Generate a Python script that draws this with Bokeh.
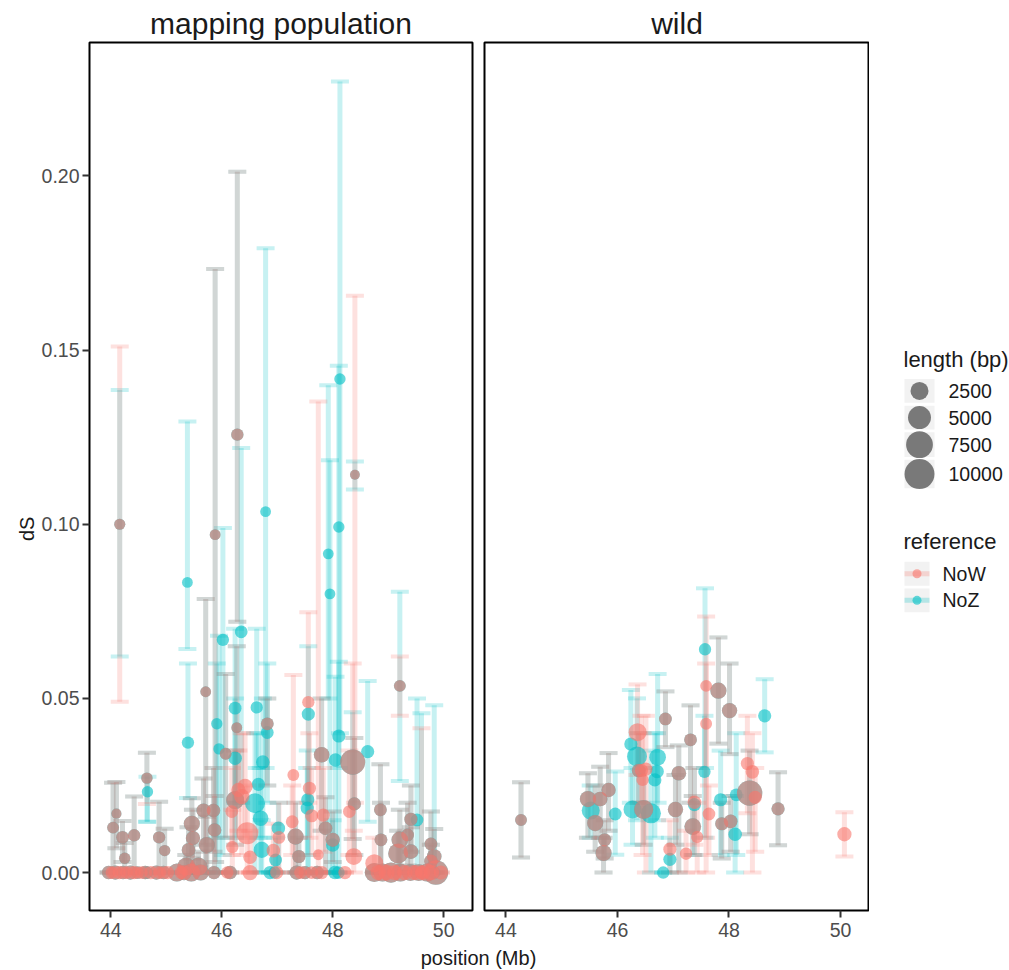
import math
from bokeh.plotting import figure
from bokeh.layouts import row, column
from bokeh.models import Range1d, FixedTicker, PrintfTickFormatter, ColumnDataSource
from bokeh.core.properties import value
from bokeh.embed import file_html
from bokeh.resources import INLINE

# ---------------- data: (position Mb, dS, lower, upper, length bp) ----------------
map_now = [
    (44.16, 0.100, 0.049, 0.151, 450), (44.04, 0.0129, 0.0, 0.0258, 600), (44.10, 0.0169, 0.007, 0.026, 300),
    (44.21, 0.0101, 0.003, 0.0148, 800), (44.25, 0.0041, 0.0, 0.0085, 500), (44.42, 0.0107, 0.0, 0.0218, 700),
    (44.65, 0.0271, 0.0197, 0.0344, 500), (44.87, 0.0101, 0.0, 0.0203, 700), (44.97, 0.0063, 0.0, 0.0126, 500),
    (45.46, 0.0140, 0.004, 0.0213, 1800), (45.48, 0.0099, 0.0, 0.018, 1200), (45.40, 0.0065, 0.0, 0.013, 1000),
    (45.36, 0.0017, 0.0, 0.005, 2500), (45.58, 0.0017, 0.0, 0.006, 2500), (45.67, 0.0178, 0.008, 0.027, 1200),
    (45.73, 0.0079, 0.0, 0.016, 1800), (45.71, 0.0519, 0.0, 0.0785, 400), (45.85, 0.0178, 0.006, 0.030, 1000),
    (45.87, 0.0122, 0.0, 0.022, 1000), (45.88, 0.0970, 0.003, 0.1733, 400), (46.07, 0.0341, 0.010, 0.057, 600),
    (46.27, 0.0416, 0.020, 0.065, 400), (46.28, 0.1257, 0.072, 0.2012, 700), (46.24, 0.0208, 0.008, 0.035, 2500),
    (46.82, 0.0427, 0.025, 0.050, 800), (47.33, 0.0103, 0.0, 0.020, 1800), (47.39, 0.0046, 0.0, 0.010, 900),
    (47.80, 0.0338, 0.012, 0.050, 1600), (47.87, 0.0127, 0.0, 0.0216, 1000), (48.00, 0.0094, 0.003, 0.0175, 1200),
    (48.36, 0.0317, 0.0096, 0.060, 6300), (48.39, 0.0197, 0.005, 0.0386, 900), (48.40, 0.1142, 0.020, 0.1656, 250),
    (48.86, 0.0180, 0.0, 0.0311, 800), (48.87, 0.0094, 0.0, 0.020, 800), (49.21, 0.0536, 0.045, 0.062, 600),
    (49.41, 0.0153, 0.006, 0.025, 900), (49.35, 0.0108, 0.002, 0.020, 800), (49.21, 0.0094, 0.0, 0.018, 2000),
    (49.18, 0.0055, 0.0, 0.012, 3400), (49.41, 0.0060, 0.0, 0.013, 1300), (49.77, 0.0082, 0.0, 0.0175, 800),
    (49.83, 0.0046, 0.0, 0.0125, 1300), (49.77, 0.0032, 0.0, 0.008, 1000),
    (43.96, 0.0, 0.0, 0.0, 1000), (44.08, 0.0, 0.0, 0.0, 1200), (44.22, 0.0, 0.0, 0.0, 1000), (44.35, 0.0, 0.0, 0.0, 1200),
    (44.48, 0.0, 0.0, 0.0, 800), (44.62, 0.0, 0.0, 0.0, 1000), (44.82, 0.0, 0.0, 0.0, 1200), (44.95, 0.0, 0.0, 0.0, 1000),
    (45.19, 0.0, 0.0, 0.0, 2500), (45.32, 0.0, 0.0, 0.0, 1500), (45.45, 0.0, 0.0, 0.0, 2500), (45.62, 0.0, 0.0, 0.0, 1800),
    (45.86, 0.0, 0.0, 0.0, 900), (46.15, 0.0, 0.0, 0.0, 1000), (47.35, 0.0, 0.0, 0.0, 1200), (47.50, 0.0, 0.0, 0.0, 900),
    (47.72, 0.0, 0.0, 0.0, 1000), (48.75, 0.0, 0.0, 0.0, 3000), (48.90, 0.0, 0.0, 0.0, 2500), (49.05, 0.0, 0.0, 0.0, 3500),
    (49.22, 0.0, 0.0, 0.0, 2500), (49.40, 0.0, 0.0, 0.0, 2000), (49.55, 0.0, 0.0, 0.0, 2000), (49.70, 0.0, 0.0, 0.0, 2500),
    (49.86, 0.0, 0.0, 0.0, 6000),
    (46.30, 0.0237, 0.012, 0.035, 1200), (46.42, 0.0247, 0.010, 0.040, 1500), (46.36, 0.0218, 0.005, 0.040, 1500),
    (46.18, 0.0175, 0.005, 0.030, 800), (46.46, 0.0113, 0.0, 0.025, 4400), (46.19, 0.0073, 0.0, 0.018, 700),
    (46.51, 0.0044, 0.0, 0.012, 1000), (46.93, 0.0063, 0.0, 0.014, 1000), (47.03, 0.0101, 0.0, 0.020, 800),
    (47.29, 0.0280, 0.0, 0.0567, 600), (47.27, 0.0146, 0.005, 0.025, 800), (47.56, 0.0489, 0.020, 0.0747, 700),
    (47.74, 0.0051, 0.0, 0.1352, 400), (47.58, 0.0242, 0.010, 0.040, 900), (47.62, 0.0163, 0.005, 0.030, 900),
    (47.83, 0.0165, 0.006, 0.030, 900), (48.30, 0.0175, 0.005, 0.035, 800), (48.38, 0.0046, 0.0, 0.012, 2000),
    (48.75, 0.0027, 0.0, 0.010, 2500), (49.60, 0.0, 0.0, 0.0414, 800),
    (44.02, 0.0, 0.0, 0.0, 800), (44.15, 0.0, 0.0, 0.0, 900), (44.28, 0.0, 0.0, 0.0, 800), (44.42, 0.0, 0.0, 0.0, 900),
    (44.55, 0.0, 0.0, 0.0, 800), (44.72, 0.0, 0.0, 0.0, 900), (44.88, 0.0, 0.0, 0.0, 800), (45.02, 0.0, 0.0, 0.0, 900),
    (45.27, 0.0, 0.0, 0.0, 900), (46.10, 0.0, 0.0, 0.0, 700), (46.51, 0.0, 0.0, 0.0, 1500), (46.99, 0.0, 0.0, 0.0, 900),
    (47.42, 0.0, 0.0, 0.0, 800), (47.62, 0.0, 0.0, 0.0, 800), (47.80, 0.0, 0.0, 0.0, 900), (48.22, 0.0, 0.0, 0.0, 900),
    (48.82, 0.0, 0.0, 0.0, 1500), (48.97, 0.0, 0.0, 0.0, 1800), (49.12, 0.0, 0.0, 0.0, 1500), (49.30, 0.0, 0.0, 0.0, 1500),
    (49.48, 0.0, 0.0, 0.0, 1500), (49.62, 0.0, 0.0, 0.0, 1500), (49.78, 0.0, 0.0, 0.0, 1500), (49.95, 0.0, 0.0, 0.0, 1200),
]

map_noz = [
    (44.16, 0.100, 0.062, 0.1385, 450), (44.04, 0.0129, 0.0, 0.0258, 600), (44.10, 0.0169, 0.007, 0.026, 300),
    (44.21, 0.0101, 0.003, 0.0148, 800), (44.25, 0.0041, 0.0, 0.0085, 500), (44.42, 0.0107, 0.0, 0.0218, 700),
    (44.65, 0.0271, 0.0146, 0.0344, 500), (44.66, 0.0232, 0.0146, 0.0275, 500), (44.87, 0.0101, 0.0, 0.0203, 700),
    (44.97, 0.0063, 0.0, 0.0126, 500),
    (45.46, 0.0140, 0.004, 0.0213, 1800), (45.48, 0.0099, 0.0, 0.018, 1200), (45.40, 0.0065, 0.0, 0.013, 1000),
    (45.36, 0.0017, 0.0, 0.005, 2500), (45.58, 0.0017, 0.0, 0.006, 2500), (45.67, 0.0178, 0.008, 0.027, 1200),
    (45.73, 0.0079, 0.0, 0.016, 1800), (45.71, 0.0519, 0.0, 0.0785, 400), (45.85, 0.0178, 0.006, 0.030, 1000),
    (45.87, 0.0122, 0.0, 0.022, 1000), (45.88, 0.0970, 0.003, 0.1733, 400), (46.07, 0.0341, 0.010, 0.057, 600),
    (46.27, 0.0416, 0.020, 0.065, 400), (46.28, 0.1257, 0.072, 0.2012, 700), (46.24, 0.0208, 0.008, 0.035, 2500),
    (46.82, 0.0427, 0.025, 0.050, 800), (47.33, 0.0103, 0.0, 0.020, 1800), (47.39, 0.0046, 0.0, 0.010, 900),
    (47.80, 0.0338, 0.012, 0.050, 1600), (47.87, 0.0127, 0.0, 0.0216, 1000), (48.00, 0.0094, 0.003, 0.0175, 1200),
    (48.36, 0.0317, 0.0096, 0.046, 6300), (48.39, 0.0197, 0.005, 0.0386, 900), (48.40, 0.1142, 0.110, 0.118, 250),
    (48.86, 0.0180, 0.0, 0.0311, 800), (48.87, 0.0094, 0.0, 0.020, 800), (49.21, 0.0536, 0.0263, 0.0806, 600),
    (49.41, 0.0153, 0.006, 0.025, 900), (49.35, 0.0108, 0.002, 0.020, 800), (49.21, 0.0094, 0.0, 0.018, 2000),
    (49.18, 0.0055, 0.0, 0.012, 3400), (49.41, 0.0060, 0.0, 0.013, 1300), (49.77, 0.0082, 0.0, 0.0175, 800),
    (49.83, 0.0046, 0.0, 0.0125, 1300), (49.77, 0.0032, 0.0, 0.008, 1000),
    (43.96, 0.0, 0.0, 0.0, 1000), (44.08, 0.0, 0.0, 0.0, 1200), (44.22, 0.0, 0.0, 0.0, 1000), (44.35, 0.0, 0.0, 0.0, 1200),
    (44.48, 0.0, 0.0, 0.0, 800), (44.62, 0.0, 0.0, 0.0, 1000), (44.82, 0.0, 0.0, 0.0, 1200), (44.95, 0.0, 0.0, 0.0, 1000),
    (45.19, 0.0, 0.0, 0.0, 2500), (45.32, 0.0, 0.0, 0.0, 1500), (45.45, 0.0, 0.0, 0.0, 2500), (45.62, 0.0, 0.0, 0.0, 1800),
    (45.86, 0.0, 0.0, 0.0, 900), (46.15, 0.0, 0.0, 0.0, 1000), (47.35, 0.0, 0.0, 0.0, 1200), (47.50, 0.0, 0.0, 0.0, 900),
    (47.72, 0.0, 0.0, 0.0, 1000), (48.75, 0.0, 0.0, 0.0, 3000), (48.90, 0.0, 0.0, 0.0, 2500), (49.05, 0.0, 0.0, 0.0, 3500),
    (49.22, 0.0, 0.0, 0.0, 2500), (49.40, 0.0, 0.0, 0.0, 2000), (49.55, 0.0, 0.0, 0.0, 2000), (49.70, 0.0, 0.0, 0.0, 2500),
    (49.86, 0.0, 0.0, 0.0, 6000),
    (45.38, 0.0833, 0.0642, 0.1295, 400), (45.39, 0.0373, 0.0214, 0.060, 700), (45.91, 0.0427, 0.010, 0.060, 500),
    (45.95, 0.0355, 0.0, 0.068, 500), (46.02, 0.0668, 0.005, 0.0989, 700), (46.24, 0.0472, 0.020, 0.070, 800),
    (46.35, 0.0691, 0.020, 0.1219, 800), (46.24, 0.0328, 0.010, 0.050, 1000), (46.60, 0.0199, 0.0, 0.040, 3400),
    (46.63, 0.0474, 0.030, 0.070, 700), (46.79, 0.1036, 0.030, 0.1792, 400), (46.82, 0.0402, 0.020, 0.060, 800),
    (46.74, 0.0317, 0.010, 0.050, 1000), (46.66, 0.0253, 0.010, 0.040, 900), (46.70, 0.0156, 0.0, 0.030, 1600),
    (46.72, 0.0065, 0.0, 0.015, 1800), (47.02, 0.0127, 0.0, 0.020, 1000), (46.97, 0.0036, 0.0, 0.010, 800),
    (47.56, 0.0455, 0.0, 0.065, 900), (47.55, 0.0209, 0.0, 0.035, 900), (47.54, 0.0185, 0.005, 0.030, 900),
    (48.00, 0.0079, 0.0, 0.015, 1000), (48.11, 0.0392, 0.0, 0.0605, 900), (48.05, 0.0323, 0.0, 0.0562, 1000),
    (47.92, 0.0915, 0.050, 0.1399, 400), (47.95, 0.0800, 0.0, 0.1184, 400), (48.13, 0.1417, 0.040, 0.2271, 500),
    (48.11, 0.0992, 0.030, 0.1455, 500), (48.63, 0.0347, 0.0146, 0.055, 900), (49.52, 0.0151, 0.0, 0.050, 800),
    (49.60, 0.0, 0.0, 0.0457, 600), (49.83, 0.0, 0.0, 0.048, 800),
    (44.65, 0.0, 0.0, 0.0, 800), (46.87, 0.0, 0.0, 0.0, 900), (46.95, 0.0, 0.0, 0.0, 700), (48.04, 0.0, 0.0, 0.0, 1000),
    (48.10, 0.0, 0.0, 0.0, 800),
]

wild_now = [
    (44.27, 0.0151, 0.0043, 0.0259, 600), (45.47, 0.0211, 0.010, 0.0285, 1800), (45.60, 0.0142, 0.006, 0.025, 1800),
    (45.69, 0.0211, 0.010, 0.0304, 1300), (45.77, 0.0094, 0.004, 0.015, 900), (45.75, 0.0056, 0.0, 0.010, 1800),
    (45.84, 0.0237, 0.012, 0.0343, 1200), (46.47, 0.0181, 0.008, 0.030, 3000), (46.38, 0.0293, 0.020, 0.040, 1000),
    (46.86, 0.0441, 0.036, 0.052, 800), (47.04, 0.0181, 0.008, 0.028, 1500), (47.10, 0.0285, 0.0, 0.0365, 1300),
    (47.31, 0.0381, 0.020, 0.048, 800), (47.35, 0.0132, 0.005, 0.022, 2000), (47.81, 0.0522, 0.037, 0.0675, 1800),
    (48.01, 0.0465, 0.034, 0.060, 1500), (47.87, 0.0140, 0.004, 0.020, 900), (48.03, 0.0147, 0.006, 0.022, 1000),
    (48.37, 0.0228, 0.011, 0.035, 6500), (48.88, 0.0183, 0.0078, 0.0288, 900),
    (47.59, 0.0536, 0.010, 0.0735, 600), (46.36, 0.0403, 0.028, 0.054, 2500), (46.43, 0.0293, 0.020, 0.045, 900),
    (46.45, 0.0266, 0.005, 0.040, 700), (46.51, 0.0297, 0.0, 0.045, 900), (46.94, 0.0067, 0.0, 0.015, 900),
    (47.23, 0.0054, 0.0, 0.012, 700), (47.38, 0.0202, 0.008, 0.030, 1000), (47.43, 0.0102, 0.0, 0.020, 700),
    (47.59, 0.0427, 0.0, 0.060, 600), (47.64, 0.0168, 0.005, 0.025, 800), (48.33, 0.0313, 0.017, 0.045, 900),
    (48.42, 0.0289, 0.0, 0.040, 1000), (48.47, 0.0216, 0.006, 0.030, 900), (50.07, 0.0110, 0.0046, 0.0173, 1200),
]

wild_noz = [
    (44.27, 0.0151, 0.0043, 0.0259, 600), (45.47, 0.0211, 0.010, 0.0285, 1800), (45.60, 0.0142, 0.006, 0.025, 1800),
    (45.69, 0.0211, 0.010, 0.0304, 1300), (45.77, 0.0094, 0.004, 0.015, 900), (45.75, 0.0056, 0.0, 0.010, 1800),
    (45.84, 0.0237, 0.012, 0.0343, 1200), (46.47, 0.0181, 0.008, 0.030, 3000), (46.38, 0.0293, 0.020, 0.040, 1000),
    (46.86, 0.0441, 0.036, 0.052, 800), (47.04, 0.0181, 0.008, 0.028, 1500), (47.10, 0.0285, 0.0, 0.0365, 1300),
    (47.31, 0.0381, 0.020, 0.048, 800), (47.35, 0.0132, 0.005, 0.022, 2000), (47.81, 0.0522, 0.037, 0.0675, 1800),
    (48.01, 0.0465, 0.034, 0.060, 1500), (47.87, 0.0140, 0.004, 0.020, 900), (48.03, 0.0147, 0.006, 0.022, 1000),
    (48.37, 0.0228, 0.011, 0.035, 6500), (48.88, 0.0183, 0.0078, 0.0288, 900),
    (47.57, 0.0641, 0.030, 0.0816, 700), (45.52, 0.0178, 0.010, 0.025, 2500), (45.96, 0.0168, 0.0051, 0.029, 800),
    (46.24, 0.0369, 0.020, 0.0524, 900), (46.35, 0.0333, 0.015, 0.050, 3400), (46.27, 0.0181, 0.008, 0.030, 2500),
    (46.60, 0.0170, 0.0, 0.035, 3400), (46.72, 0.0331, 0.020, 0.057, 2000), (46.71, 0.0290, 0.015, 0.040, 1000),
    (46.67, 0.0266, 0.010, 0.040, 900), (46.94, 0.0038, 0.0, 0.010, 900), (46.82, 0.0, 0.0, 0.0, 700),
    (47.38, 0.0195, 0.005, 0.030, 900), (47.56, 0.0289, 0.010, 0.045, 700), (47.85, 0.0209, 0.005, 0.035, 900),
    (48.11, 0.0110, 0.0, 0.022, 1000), (48.13, 0.0223, 0.005, 0.040, 800), (48.64, 0.0450, 0.0345, 0.0555, 900),
]

panel_titles = ["mapping population", "wild"]
references = ["NoW", "NoZ"]
ref_colors = ["#F8766D", "#00BFC4"]
size_breaks = [2500, 5000, 7500, 10000]
x_ticks = [44, 46, 48, 50]
y_ticks = [0.0, 0.05, 0.10, 0.15, 0.20]

FONT = "Liberation Sans"
FRAME_H = 868
TOP = 42
BOTTOM = 36
FULL_H = TOP + FRAME_H + BOTTOM


def diam(L):
    return 6 + 0.24 * math.sqrt(L)


def source(rows):
    return ColumnDataSource(dict(
        pos=[r[0] for r in rows], ds=[r[1] for r in rows], lo=[r[2] for r in rows],
        hi=[r[3] for r in rows], size=[diam(r[4]) for r in rows]))


def blank(width, height, xr, yr):
    f = figure(width=width, height=height, x_range=Range1d(*xr), y_range=Range1d(*yr),
               output_backend="svg", toolbar_location=None, x_axis_location=None, y_axis_location=None,
               min_border_left=0, min_border_right=0, min_border_top=0, min_border_bottom=0)
    f.outline_line_color = None
    f.grid.grid_line_color = None
    return f


def make_panel(title, now, noz, frame_w, left, right, with_y):
    p = figure(frame_width=frame_w, frame_height=FRAME_H,
               x_range=Range1d(43.615, 50.52), y_range=Range1d(-0.0109, 0.2383),
               output_backend="svg", toolbar_location=None,
               min_border_left=left, min_border_right=right, min_border_top=TOP, min_border_bottom=BOTTOM,
               y_axis_location="left" if with_y else None)
    p.outline_line_color = "#000000"
    p.outline_line_width = 2
    p.grid.grid_line_color = None
    axes = [p.xaxis[0]] + ([p.yaxis[0]] if with_y else [])
    for ax in axes:
        ax.axis_line_color = None
        ax.major_tick_line_color = "#333333"
        ax.major_tick_line_width = 2
        ax.major_tick_out = 7
        ax.major_tick_in = 0
        ax.minor_tick_line_color = None
        ax.major_label_text_font = FONT
        ax.major_label_text_font_size = "19.5px"
        ax.major_label_text_color = "#4D4D4D"
        ax.major_label_standoff = 5
    p.xaxis.ticker = FixedTicker(ticks=x_ticks)
    p.xaxis.formatter = PrintfTickFormatter(format="%d")
    if with_y:
        p.yaxis.ticker = FixedTicker(ticks=y_ticks)
        p.yaxis.formatter = PrintfTickFormatter(format="%.2f")
        p.yaxis.major_label_standoff = 3

    p.title.text = title
    p.title.align = "center"
    p.title.text_font = FONT
    p.title.text_font_size = "30px"
    p.title.text_font_style = "normal"
    p.title.text_color = "#1A1A1A"
    p.title.standoff = 6

    groups = [(noz, ref_colors[1]), (now, ref_colors[0])]
    srcs = [(source(rows), col) for rows, col in groups]
    for src, col in srcs:
        p.segment(x0="pos", y0="lo", x1="pos", y1="hi", source=src,
                  line_color=col, line_alpha=0.22, line_width=5)
        for yf in ("lo", "hi"):
            p.scatter(x="pos", y=yf, source=src, marker="dash", size=18,
                      line_color=col, line_alpha=0.22, line_width=4)
    for src, col in srcs:
        p.scatter(x="pos", y="ds", source=src, marker="circle", size="size",
                  fill_color=col, fill_alpha=0.6, line_color=None)
    return p


# y-axis title column
p0 = blank(37, FULL_H, (0, 37), (0, FULL_H))
p0.text(x=[26], y=[FULL_H - 530], text=["dS"], angle=math.pi / 2, text_font=value(FONT),
        text_font_size=value("20px"), text_color="#1A1A1A", text_align="center",
        text_baseline="middle")

p1 = make_panel(panel_titles[0], map_now, map_noz, 383, 52, 6, True)
p2 = make_panel(panel_titles[1], wild_now, wild_noz, 385, 6, 0, False)

# ---------------- legend panel (pixel coordinates, y downwards) ----------------
pl = blank(140, FULL_H, (0, 140), (FULL_H, 0))
key_y = [379.7, 408.8, 438.3, 470.3]
key_h = [26, 26, 27, 31]
pl.text(x=[34], y=[345], text=["length (bp)"], text_font=value(FONT), text_font_size=value("22px"),
        text_color="#1A1A1A", text_baseline="middle", text_align="left")
pl.rect(x=[50] * 4, y=key_y, width=30, height=key_h, fill_color="#F2F2F2", line_color=None)
pl.scatter(x=[50] * 4, y=key_y, size=[diam(b) for b in size_breaks], marker="circle",
           fill_color="black", fill_alpha=0.5, line_color=None)
pl.text(x=[79] * 4, y=key_y, text=[str(b) for b in size_breaks], text_font=value(FONT),
        text_font_size=value("19.5px"), text_color="#1A1A1A", text_baseline="middle", text_align="left")

ref_y = [579, 608]
pl.text(x=[34], y=[544], text=["reference"], text_font=value(FONT), text_font_size=value("22px"),
        text_color="#1A1A1A", text_baseline="middle", text_align="left")
pl.rect(x=[47.5] * 2, y=ref_y, width=25, height=26, fill_color="#F2F2F2", line_color=None)
for yy, col in zip(ref_y, ref_colors):
    pl.segment(x0=[35], y0=[yy], x1=[60], y1=[yy], line_color=col, line_alpha=0.25, line_width=5)
    pl.scatter(x=[47.5], y=[yy], size=9, marker="circle", fill_color=col, fill_alpha=0.6, line_color=None)
pl.text(x=[73] * 2, y=ref_y, text=references, text_font=value(FONT), text_font_size=value("19.5px"),
        text_color="#1A1A1A", text_baseline="middle", text_align="left")

# ---------------- shared x-axis title ----------------
pt = blank(1009, 24, (0, 1009), (24, 0))
pt.text(x=[478], y=[11], text=["position (Mb)"], text_font=value(FONT), text_font_size=value("20px"),
        text_color="#1A1A1A", text_baseline="middle", text_align="center")

layout = column(row(p0, p1, p2, pl), pt)
open("out.html", "w").write(file_html(layout, INLINE))
